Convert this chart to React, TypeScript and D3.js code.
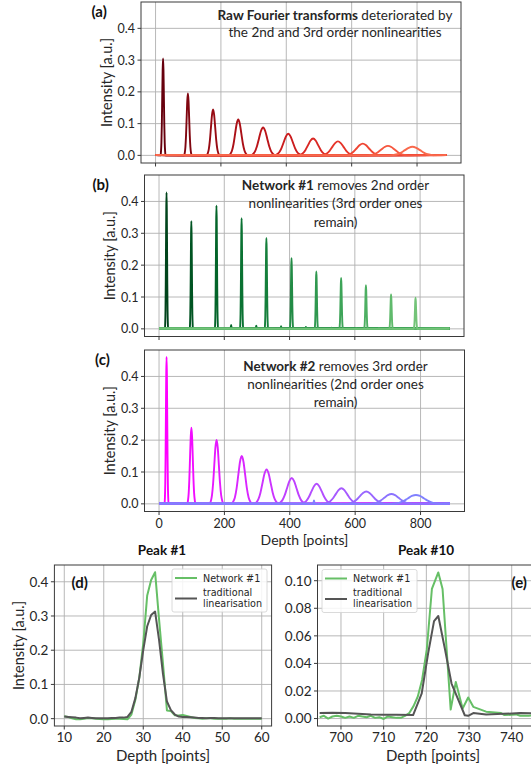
import React from "react";
import * as d3 from "d3";

// ---------- data ----------
const DEPTH_MAX = 890;
const peakCenters = [23, 99, 176, 253, 329, 406, 482, 558, 634, 711, 786];

// (a) raw Fourier transforms
const rawHeights = [0.305, 0.195, 0.145, 0.113, 0.088, 0.068, 0.053, 0.044, 0.037, 0.030, 0.027];
const rawWidths = [2.5, 3.8, 6.5, 9.5, 12.5, 14, 15.5, 17, 18.5, 20.5, 23];

// (b) network #1
const net1Heights = [0.428, 0.338, 0.387, 0.347, 0.285, 0.222, 0.180, 0.160, 0.137, 0.108, 0.098];
const net1Widths = [1.6, 1.6, 1.6, 1.6, 1.7, 1.7, 1.7, 1.8, 1.8, 1.8, 1.8];
const net1BlipPos = [0, 0, 221, 298, 374, 450, 528, 604, 674, 0, 0];
const net1BlipHeights = [0, 0, 0.012, 0.01, 0.008, 0.006, 0.004, 0.003, 0.003, 0, 0];

// (c) network #2
const net2Heights = [0.461, 0.239, 0.201, 0.150, 0.108, 0.081, 0.063, 0.049, 0.039, 0.031, 0.028];
const net2Widths = [2, 4.2, 7, 10.5, 12.5, 14.5, 16, 18, 20, 22, 25];
const net2BlipPos = [0, 0, 0, 0, 0, 0, 0, 0, 0, 0, 474];
const net2BlipHeights = [0, 0, 0, 0, 0, 0, 0, 0, 0, 0, 0.011];

// peak profile (offset in widths, relative height)
const profileOffsets = [-3, -2.5, -2, -1.5, -1, -0.5, 0, 0.5, 1, 1.5, 2, 2.5, 3];
const profileValues = [0, 0.044, 0.135, 0.325, 0.607, 0.882, 1, 0.882, 0.607, 0.325, 0.135, 0.044, 0];

// (d) Peak #1
const p1Depth = [10, 11, 12, 13, 14, 15, 16, 17, 18, 19, 20, 21, 22, 23, 24, 25, 26, 27, 28, 29, 30, 31, 32, 33, 34, 35, 36, 37, 38, 39, 40, 41, 42, 43, 44, 45, 46, 47, 48, 49, 50, 51, 52, 53, 54, 55, 56, 57, 58, 59, 60];
const p1Net = [0.007, 0.005, 0.001, -0.002, -0.002, 0.0, 0.002, 0.001, 0.0, -0.001, -0.002, -0.002, -0.001, 0.0, 0.0, -0.001, -0.002, 0.012, 0.055, 0.12, 0.22, 0.36, 0.405, 0.428, 0.29, 0.16, 0.024, 0.022, 0.01, 0.009, 0.011, 0.008, 0.005, 0.002, 0.001, 0.0, 0.001, 0.001, 0.0, 0.0, 0.0, 0.0, 0.001, 0.0, 0.0, 0.0, 0.0, 0.0, 0.0, 0.0, 0.0];
const p1Trad = [0.006, 0.005, 0.004, 0.003, 0.001, 0.002, 0.003, 0.002, 0.001, 0.001, 0.001, 0.001, 0.002, 0.002, 0.003, 0.003, 0.005, 0.02, 0.06, 0.12, 0.2, 0.27, 0.303, 0.313, 0.23, 0.13, 0.05, 0.025, 0.012, 0.006, 0.005, 0.005, 0.004, 0.003, 0.002, 0.002, 0.001, 0.002, 0.002, 0.001, 0.001, 0.001, 0.001, 0.001, 0.001, 0.001, 0.001, 0.001, 0.001, 0.001, 0.001];

// (e) Peak #10
const p10NetDepth = [695, 696, 697, 698, 699, 700, 701, 702, 703, 704, 705, 706, 707, 708, 709, 710, 711, 712, 713, 714, 715, 716, 717, 718, 719, 720.1, 721.3, 722.8, 723.8, 725.7, 726.9, 728.5, 729.8, 731, 734, 737.5, 738.3, 741, 742, 744, 746, 748];
const p10Net = [0.001, 0.002, 0.0, 0.0015, 0.002, 0.0015, 0.0005, 0.0015, 0.0005, 0.002, 0.0015, 0.001, 0.002, 0.0005, 0.001, -0.0003, 0.0015, 0.001, 0.0005, 0.0005, 0.002, 0.004, 0.009, 0.016, 0.028, 0.05, 0.094, 0.106, 0.094, 0.0065, 0.0266, 0.0073, 0.0153, 0.0085, 0.005, 0.004, 0.0025, 0.003, 0.002, 0.002, 0.0025, 0.002];
const p10TradDepth = [695, 698, 701, 704, 707, 710, 713, 716.9, 718.9, 720.4, 721.8, 722.8, 724.4, 725.9, 729, 729.8, 731, 734, 738, 742, 748];
const p10Trad = [0.004, 0.0042, 0.004, 0.0035, 0.003, 0.0028, 0.0027, 0.0025, 0.018, 0.047, 0.0707, 0.0744, 0.0497, 0.0254, 0.0024, 0.002, 0.004, 0.003, 0.0034, 0.004, 0.0035];

const yTicksMain = [0, 0.1, 0.2, 0.3, 0.4];
const xTicksMain = [0, 200, 400, 600, 800];
const xTicksD = [10, 20, 30, 40, 50, 60];
const xTicksE = [700, 710, 720, 730, 740];
const yTicksE = [0, 0.02, 0.04, 0.06, 0.08, 0.1];

// ---------- helpers ----------
const FONT = "Lato, 'Open Sans', sans-serif";
const GRID = "#b0b0b0";
const SPINE = "#3a3a3a";
const TXT = "#262626";

type Rect = { l: number; r: number; t: number; b: number };

function peakPoints(c: number, h: number, w: number, bp = 0, bh = 0): [number, number][] {
  const pts: [number, number][] = [[0, 0.001]];
  profileOffsets.forEach((o, i) => pts.push([c + o * w, h * profileValues[i]]));
  if (bp > 0 && bh !== 0) {
    pts.push([bp - 2, 0.001], [bp, bh], [bp + 2, 0.001]);
  }
  pts.push([DEPTH_MAX, 0.001]);
  pts.sort((a, b) => a[0] - b[0]);
  return pts;
}

function Axes(props: {
  id: string;
  rect: Rect;
  x: d3.ScaleLinear<number, number>;
  y: d3.ScaleLinear<number, number>;
  xTicks: number[];
  yTicks: number[];
  xFmt?: (v: number) => string;
  yFmt: (v: number) => string;
  tickFont: number;
  children?: React.ReactNode;
}) {
  const { id, rect, x, y, xTicks, yTicks, xFmt, yFmt, tickFont, children } = props;
  return (
    <g>
      <defs>
        <clipPath id={id}>
          <rect x={rect.l} y={rect.t} width={rect.r - rect.l} height={rect.b - rect.t} />
        </clipPath>
      </defs>
      <rect x={rect.l} y={rect.t} width={rect.r - rect.l} height={rect.b - rect.t} fill="#fff" />
      {xTicks.map((v) => (
        <line key={"gx" + v} x1={x(v)} x2={x(v)} y1={rect.t} y2={rect.b} stroke={GRID} strokeWidth={0.9} />
      ))}
      {yTicks.map((v) => (
        <line key={"gy" + v} x1={rect.l} x2={rect.r} y1={y(v)} y2={y(v)} stroke={GRID} strokeWidth={0.9} />
      ))}
      <g clipPath={`url(#${id})`}>{children}</g>
      <rect x={rect.l} y={rect.t} width={rect.r - rect.l} height={rect.b - rect.t} fill="none" stroke={SPINE} strokeWidth={1} />
      {xTicks.map((v) => (
        <g key={"tx" + v}>
          <line x1={x(v)} x2={x(v)} y1={rect.b} y2={rect.b + 3.5} stroke={SPINE} strokeWidth={1} />
          {xFmt && (
            <text x={x(v)} y={rect.b + 16} textAnchor="middle" fontSize={tickFont} fill={TXT} fontFamily={FONT}>
              {xFmt(v)}
            </text>
          )}
        </g>
      ))}
      {yTicks.map((v) => (
        <g key={"ty" + v}>
          <line x1={rect.l - 3.5} x2={rect.l} y1={y(v)} y2={y(v)} stroke={SPINE} strokeWidth={1} />
          <text x={rect.l - 6} y={y(v) + tickFont * 0.36} textAnchor="end" fontSize={tickFont} fill={TXT} fontFamily={FONT}>
            {yFmt(v)}
          </text>
        </g>
      ))}
    </g>
  );
}

const rectA: Rect = { l: 141, r: 461, t: 2, b: 163 };
const rectB: Rect = { l: 144.5, r: 464, t: 175, b: 336.5 };
const rectC: Rect = { l: 144.5, r: 464.5, t: 350, b: 511.5 };
const rectD: Rect = { l: 54.4, r: 271.6, t: 565, b: 726 };
const rectE: Rect = { l: 317.5, r: 548, t: 565, b: 726 };

const Y_MAIN: [number, number] = [-0.024, 0.483];

function coolColor(i: number) {
  const v = 1 - i * 0.05;
  return d3.rgb(255 * v, 255 * (1 - v), 255).formatHex();
}

function PeakPanel(props: {
  id: string;
  rect: Rect;
  heights: number[];
  widths: number[];
  blipPos?: number[];
  blipH?: number[];
  color: (i: number) => string;
  showX: boolean;
}) {
  const { id, rect, heights, widths, blipPos, blipH, color, showX } = props;
  const x = d3.scaleLinear().domain([-44.5, 934.5]).range([rect.l, rect.r]);
  const y = d3.scaleLinear().domain(Y_MAIN).range([rect.b, rect.t]);
  const line = d3
    .line<[number, number]>()
    .x((d) => x(d[0]))
    .y((d) => y(d[1]))
    .curve(d3.curveMonotoneX);
  return (
    <Axes
      id={id}
      rect={rect}
      x={x}
      y={y}
      xTicks={xTicksMain}
      yTicks={yTicksMain}
      xFmt={showX ? (v) => String(v) : undefined}
      yFmt={(v) => v.toFixed(1)}
      tickFont={12.5}
    >
      {peakCenters.map((c, i) => (
        <path
          key={i}
          d={line(peakPoints(c, heights[i], widths[i], blipPos ? blipPos[i] : 0, blipH ? blipH[i] : 0)) || ""}
          fill="none"
          stroke={color(i)}
          strokeWidth={1.9}
          strokeLinejoin="round"
        />
      ))}
    </Axes>
  );
}

function Legend(props: { x: number; y: number }) {
  const { x, y } = props;
  const lf = "'DejaVu Sans', sans-serif";
  return (
    <g>
      <rect x={x} y={y} width={95} height={43} rx={2} fill="#fff" fillOpacity={0.85} stroke="#d0d0d0" strokeWidth={0.8} />
      <line x1={x + 3} x2={x + 25} y1={y + 9} y2={y + 9} stroke="#66bf66" strokeWidth={2} />
      <text x={x + 31} y={y + 12.5} fontSize={9.6} fontFamily={lf} fill={TXT}>Network #1</text>
      <line x1={x + 3} x2={x + 25} y1={y + 29.5} y2={y + 29.5} stroke="#555" strokeWidth={2} />
      <text x={x + 31} y={y + 26.5} fontSize={9.6} fontFamily={lf} fill={TXT}>traditional</text>
      <text x={x + 31} y={y + 37.5} fontSize={9.6} fontFamily={lf} fill={TXT}>linearisation</text>
    </g>
  );
}

function ZoomPanel(props: {
  id: string;
  rect: Rect;
  xDomain: [number, number];
  yDomain: [number, number];
  xTicks: number[];
  yTicks: number[];
  yFmt: (v: number) => string;
  netX: number[];
  netY: number[];
  tradX: number[];
  tradY: number[];
}) {
  const { id, rect, xDomain, yDomain, xTicks, yTicks, yFmt, netX, netY, tradX, tradY } = props;
  const x = d3.scaleLinear().domain(xDomain).range([rect.l, rect.r]);
  const y = d3.scaleLinear().domain(yDomain).range([rect.b, rect.t]);
  const netPath = d3.line<number>().x((d, i) => x(netX[i])).y((d) => y(d))(netY) || "";
  const tradPath = d3.line<number>().x((d, i) => x(tradX[i])).y((d) => y(d))(tradY) || "";
  return (
    <Axes
      id={id}
      rect={rect}
      x={x}
      y={y}
      xTicks={xTicks}
      yTicks={yTicks}
      xFmt={(v) => String(v)}
      yFmt={yFmt}
      tickFont={13.5}
    >
      <path d={netPath} fill="none" stroke="#66bf66" strokeWidth={2} strokeLinejoin="round" />
      <path d={tradPath} fill="none" stroke="#555" strokeWidth={2} strokeLinejoin="round" />
    </Axes>
  );
}

export default function App() {
  const ann = { fontFamily: FONT, fontSize: 13.5, fill: TXT, textAnchor: "middle" as const };
  const lab = { fontFamily: FONT, fontSize: 15, fontWeight: 700, fill: "#111" };
  return (
    <svg width={531} height={767} style={{ position: "absolute", left: 0, top: 0, background: "#fff" }}>
      <rect x={0} y={0} width={531} height={767} fill="#fff" />
      <PeakPanel id="ca" rect={rectA} heights={rawHeights} widths={rawWidths} color={(i) => d3.interpolateReds(1 - i * 0.05)} showX={false} />
      <PeakPanel id="cb" rect={rectB} heights={net1Heights} widths={net1Widths} blipPos={net1BlipPos} blipH={net1BlipHeights} color={(i) => d3.interpolateGreens(1 - i * 0.05)} showX={false} />
      <PeakPanel id="cc" rect={rectC} heights={net2Heights} widths={net2Widths} blipPos={net2BlipPos} blipH={net2BlipHeights} color={coolColor} showX={true} />

      {/* annotations */}
      <text {...ann} x={335} y={19.5}>
        <tspan fontWeight={700}>Raw Fourier transforms</tspan> deteriorated by
      </text>
      <text {...ann} x={335} y={36.5}>the 2nd and 3rd order nonlinearities</text>
      <text {...ann} x={335.5} y={189.5}>
        <tspan fontWeight={700}>Network #1</tspan> removes 2nd order
      </text>
      <text {...ann} x={335.5} y={208}>nonlinearities (3rd order ones</text>
      <text {...ann} x={335.5} y={226.5}>remain)</text>
      <text {...ann} x={335.5} y={370.5}>
        <tspan fontWeight={700}>Network #2</tspan> removes 3rd order
      </text>
      <text {...ann} x={335.5} y={388.5}>nonlinearities (2nd order ones</text>
      <text {...ann} x={335.5} y={407}>remain)</text>

      <text {...lab} x={91.5} y={17}>(a)</text>
      <text {...lab} x={92.5} y={190}>(b)</text>
      <text {...lab} x={95} y={365}>(c)</text>

      {/* y labels */}
      {[
        [106, (rectA.t + rectA.b) / 2],
        [109, (rectB.t + rectB.b) / 2],
        [109, (rectC.t + rectC.b) / 2],
        [18, (rectD.t + rectD.b) / 2],
      ].map(([cx, cy], i) => (
        <text key={i} x={cx} y={cy} transform={`rotate(-90 ${cx} ${cy})`} textAnchor="middle" dominantBaseline="central" fontFamily={FONT} fontSize={14.5} fill={TXT}>
          Intensity [a.u.]
        </text>
      ))}
      <text x={(rectC.l + rectC.r) / 2} y={545} textAnchor="middle" fontFamily={FONT} fontSize={14} fill={TXT}>Depth [points]</text>

      {/* bottom panels */}
      <ZoomPanel id="cd" rect={rectD} xDomain={[7.5, 62.5]} yDomain={[-0.0215, 0.449]} xTicks={xTicksD} yTicks={yTicksMain} yFmt={(v) => v.toFixed(1)} netX={p1Depth} netY={p1Net} tradX={p1Depth} tradY={p1Trad} />
      <ZoomPanel id="ce" rect={rectE} xDomain={[694.5, 748.5]} yDomain={[-0.0054, 0.1114]} xTicks={xTicksE} yTicks={yTicksE} yFmt={(v) => v.toFixed(2)} netX={p10NetDepth} netY={p10Net} tradX={p10TradDepth} tradY={p10Trad} />
      <Legend x={172} y={569} />
      <Legend x={322} y={569.5} />
      <text {...lab} x={71.5} y={588}>(d)</text>
      <text {...lab} x={511.5} y={588}>(e)</text>
      <text x={162} y={554.5} textAnchor="middle" fontFamily={FONT} fontSize={13.5} fontWeight={700} fill="#111">Peak #1</text>
      <text x={426} y={554.5} textAnchor="middle" fontFamily={FONT} fontSize={13.5} fontWeight={700} fill="#111">Peak #10</text>
      <text x={(rectD.l + rectD.r) / 2} y={761} textAnchor="middle" fontFamily={FONT} fontSize={15} fill={TXT}>Depth [points]</text>
      <text x={433} y={761} textAnchor="middle" fontFamily={FONT} fontSize={15} fill={TXT}>Depth [points]</text>
    </svg>
  );
}
